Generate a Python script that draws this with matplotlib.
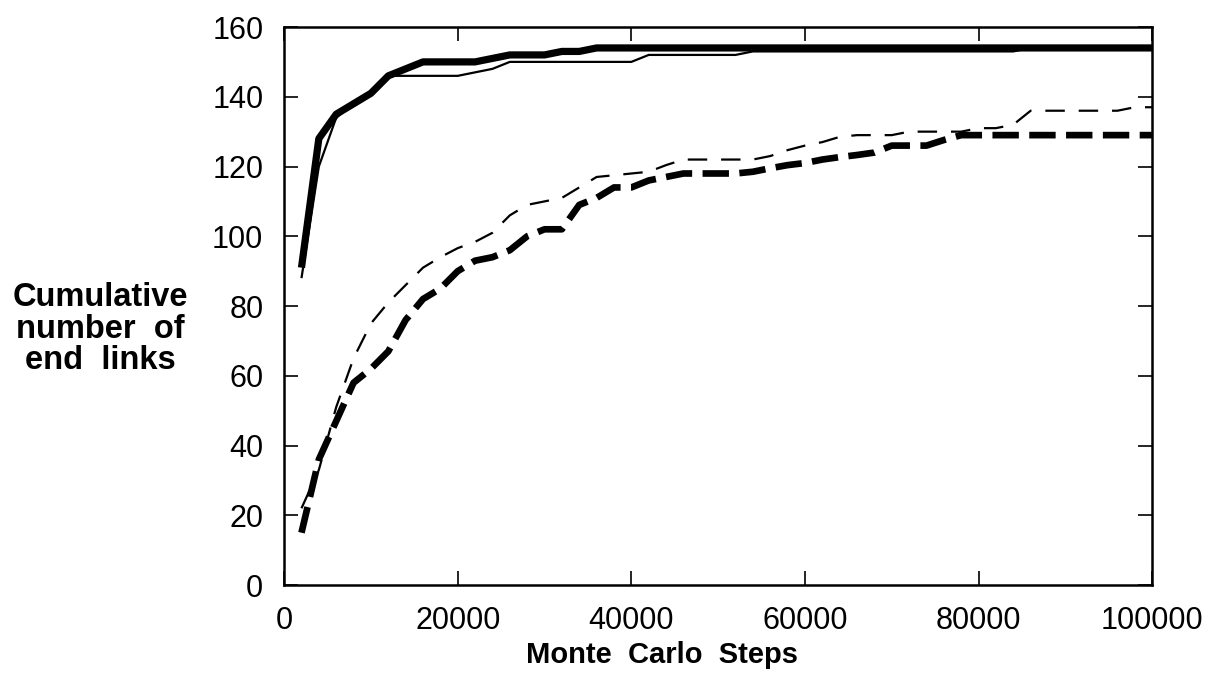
import numpy as np
import matplotlib
matplotlib.use('Agg')
import matplotlib.pyplot as plt

plt.rcParams['font.family'] = ['Liberation Sans', 'DejaVu Sans']
plt.rcParams['lines.scale_dashes'] = False

# Monte Carlo steps, every 2000
steps = list(range(2000, 100001, 2000))

# thick solid
solid_thick = [91, 128, 135, 138, 141, 146, 148, 150, 150, 150,
               150, 151, 152, 152, 152, 153, 153, 154, 154, 154,
               154, 154, 154, 154, 154, 154, 154, 154, 154, 154,
               154, 154, 154, 154, 154, 154, 154, 154, 154, 154,
               154, 154, 154, 154, 154, 154, 154, 154, 154, 154]

# thin solid
solid_thin = [88, 120, 134, 138, 141, 146, 146, 146, 146, 146,
              147, 148, 150, 150, 150, 150, 150, 150, 150, 150,
              152, 152, 152, 152, 152, 152, 153, 153, 153, 153,
              153, 153, 153, 153, 153, 153, 153, 153, 153, 153,
              153, 153, 154, 154, 154, 154, 154, 154, 154, 154]

# thick dashed
dashed_thick = [15, 36, 47, 58, 62, 67, 76, 82, 85, 90,
                93, 94, 96, 100, 102, 102, 109, 111, 114, 114,
                116, 117, 118, 118, 118, 118, 118.5, 119.5, 120.4, 121,
                122, 122.7, 123.3, 124, 126, 126, 126, 127.6, 129, 129,
                129, 129, 129, 129, 129, 129, 129, 129, 129, 129]

# thin dashed
dashed_thin = [22, 33, 51, 65, 75, 81, 86, 91, 94, 96.6,
               98.4, 101, 106, 109, 110, 111, 114, 117, 117.5, 118,
               118.5, 120.4, 122, 122, 122, 122, 122, 123, 124.7, 126,
               127, 128.5, 129, 129, 129, 130, 130, 130, 130, 131,
               131, 132, 136, 136, 136, 136, 136, 136, 137, 137]

fig = plt.figure(figsize=(12.09, 6.84), dpi=100)
ax = fig.add_axes([0.235, 0.1447, 0.718, 0.8158])

ax.plot(steps, solid_thin, color='black', lw=1.6, solid_capstyle='butt', clip_on=False)
ax.plot(steps, solid_thick, color='black', lw=5.2, solid_capstyle='butt', clip_on=False)
ax.plot(steps, dashed_thin, color='black', lw=1.6, dashes=(14, 10), clip_on=False)
ax.plot(steps, dashed_thick, color='black', lw=4.8, dashes=(19, 7.5), clip_on=False)

ax.set_xlim(0, 100000)
ax.set_ylim(0, 160)
ax.set_xticks(np.arange(0, 100001, 20000))
ax.set_yticks(np.arange(0, 161, 20))
ax.tick_params(direction='in', length=10, width=1.2, labelsize=22,
               top=True, right=True)
ax.tick_params(axis='y', pad=15)
ax.tick_params(axis='x', pad=15)
for s in ax.spines.values():
    s.set_linewidth(1.8)

fig.text(0.5476, 0.043, 'Monte  Carlo  Steps', ha='center', va='center',
         fontsize=21, fontweight='bold')
fig.text(0.083, 0.519, 'Cumulative\nnumber  of\nend  links', ha='center', va='center',
         fontsize=23.5, fontweight='bold', linespacing=1.03)

fig.savefig('out.png', dpi=100)
